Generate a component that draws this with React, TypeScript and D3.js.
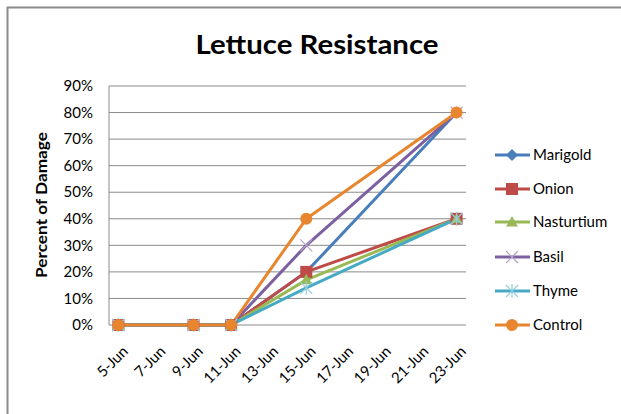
import React from "react";
import * as d3 from "d3";

const dates = ["2010-06-05", "2010-06-09", "2010-06-11", "2010-06-15", "2010-06-23"];
const seriesNames = ["Marigold", "Onion", "Nasturtium", "Basil", "Thyme", "Control"];
const marigold = [0, 0, 0, 0.2, 0.8];
const onion = [0, 0, 0, 0.2, 0.4];
const nasturtium = [0, 0, 0, 0.17, 0.4];
const basil = [0, 0, 0, 0.3, 0.8];
const thyme = [0, 0, 0, 0.14, 0.4];
const control = [0, 0, 0, 0.4, 0.8];
const seriesValues = [marigold, onion, nasturtium, basil, thyme, control];
const colors = ["#4A7EBB", "#BE4B48", "#98B954", "#7D60A0", "#46AAC5", "#E8852F"];
const markerKinds = ["diamond", "square", "triangle", "x", "star", "circle"];
const yTicks = [0, 0.1, 0.2, 0.3, 0.4, 0.5, 0.6, 0.7, 0.8, 0.9];
const xTickLabels = ["5-Jun", "7-Jun", "9-Jun", "11-Jun", "13-Jun", "15-Jun", "17-Jun", "19-Jun", "21-Jun", "23-Jun"];

const FONT = "Lato, 'Open Sans', sans-serif";

function parseDay(s: string) {
  return d3.timeParse("%Y-%m-%d")(s) as Date;
}

function Marker({ kind, color, x, y }: { kind: string; color: string; x: number; y: number }) {
  const r = 6;
  if (kind === "diamond") {
    return <path d={`M${x},${y - r}L${x + r},${y}L${x},${y + r}L${x - r},${y}Z`} fill={color} />;
  }
  if (kind === "square") {
    return <rect x={x - r} y={y - r} width={2 * r} height={2 * r} fill={color} />;
  }
  if (kind === "triangle") {
    return <path d={`M${x},${y - r}L${x + r},${y + r * 0.75}L${x - r},${y + r * 0.75}Z`} fill={color} />;
  }
  if (kind === "x") {
    return (
      <path d={`M${x - r},${y - r}L${x + r},${y + r}M${x - r},${y + r}L${x + r},${y - r}`} stroke="#B3A2C7" strokeWidth={1.2} fill="none" />
    );
  }
  if (kind === "star") {
    return (
      <path
        d={`M${x - r},${y - r}L${x + r},${y + r}M${x - r},${y + r}L${x + r},${y - r}M${x},${y - r - 1}L${x},${y + r + 1}`}
        stroke="#93CDDD"
        strokeWidth={1.2}
        fill="none"
      />
    );
  }
  return <circle cx={x} cy={y} r={r} fill={color} />;
}

export default function App() {
  const W = 621;
  const H = 414;
  const left = 109;
  const right = 466;
  const top = 86;
  const bottom = 325;

  const x = d3
    .scaleTime()
    .domain([d3.timeHour.offset(parseDay("2010-06-05"), -12), d3.timeHour.offset(parseDay("2010-06-23"), 12)])
    .range([left, right]);
  const y = d3.scaleLinear().domain([0, 0.9]).range([bottom, top]);
  const line = d3
    .line<[Date, number]>()
    .x((d) => x(d[0]))
    .y((d) => y(d[1]));

  const parsed = dates.map(parseDay);
  const tickDates = d3.timeDay.range(parseDay("2010-06-05"), d3.timeDay.offset(parseDay("2010-06-23"), 1), 2);
  const pct = d3.format(".0%");

  const legendY = [155, 189, 222, 257, 291, 325];

  return (
    <svg width={W} height={H} style={{ position: "absolute", left: 0, top: 0 }} fontFamily={FONT}>
      <rect x={0} y={0} width={W} height={H} fill="#fff" />
      <path d={`M7.5,${H + 5}L7.5,7.5L${W + 5},7.5`} stroke="#8a8a8a" strokeWidth={2} fill="none" />
      <text x={317} y={54} textAnchor="middle" fontSize={27} fontWeight="bold" fill="#000" textLength={243} lengthAdjust="spacingAndGlyphs">
        Lettuce  Resistance
      </text>
      {yTicks.map((t) => (
        <g key={t}>
          {t > 0 && <line x1={left} x2={right} y1={y(t)} y2={y(t)} stroke="#8a8a8a" strokeWidth={1} />}
          <text x={93} y={y(t)} dy="0.35em" textAnchor="end" fontSize={15} fill="#000">
            {pct(t)}
          </text>
        </g>
      ))}
      <line x1={left} x2={left} y1={top} y2={bottom} stroke="#8a8a8a" />
      <line x1={left} x2={right} y1={bottom} y2={bottom} stroke="#8a8a8a" />
      <text transform={`translate(47,205) rotate(-90)`} textAnchor="middle" fontSize={15} fontWeight="bold" fill="#000" textLength={146} lengthAdjust="spacingAndGlyphs">
        Percent of Damage
      </text>
      {tickDates.map((d, i) => (
        <text key={i} transform={`translate(${x(d) + 3},${345}) rotate(-45)`} textAnchor="end" dy="0.7em" fontSize={15} fill="#000">
          {xTickLabels[i]}
        </text>
      ))}
      {seriesValues.map((vals, si) => (
        <path
          key={"l" + si}
          d={line(vals.map((v, i) => [parsed[i], v] as [Date, number])) || ""}
          stroke={colors[si]}
          strokeWidth={3}
          fill="none"
          strokeLinejoin="round"
        />
      ))}
      {seriesValues.map((vals, si) => (
        <g key={"m" + si}>
          {vals.map((v, i) => (
            <Marker key={i} kind={markerKinds[si]} color={colors[si]} x={x(parsed[i])} y={y(v)} />
          ))}
        </g>
      ))}
      {seriesNames.map((n, si) => (
        <g key={n}>
          <line x1={495} x2={530} y1={legendY[si]} y2={legendY[si]} stroke={colors[si]} strokeWidth={3} />
          <Marker kind={markerKinds[si]} color={colors[si]} x={512} y={legendY[si]} />
          <text x={533} y={legendY[si]} dy="0.35em" fontSize={15} fill="#000">
            {n}
          </text>
        </g>
      ))}
    </svg>
  );
}
